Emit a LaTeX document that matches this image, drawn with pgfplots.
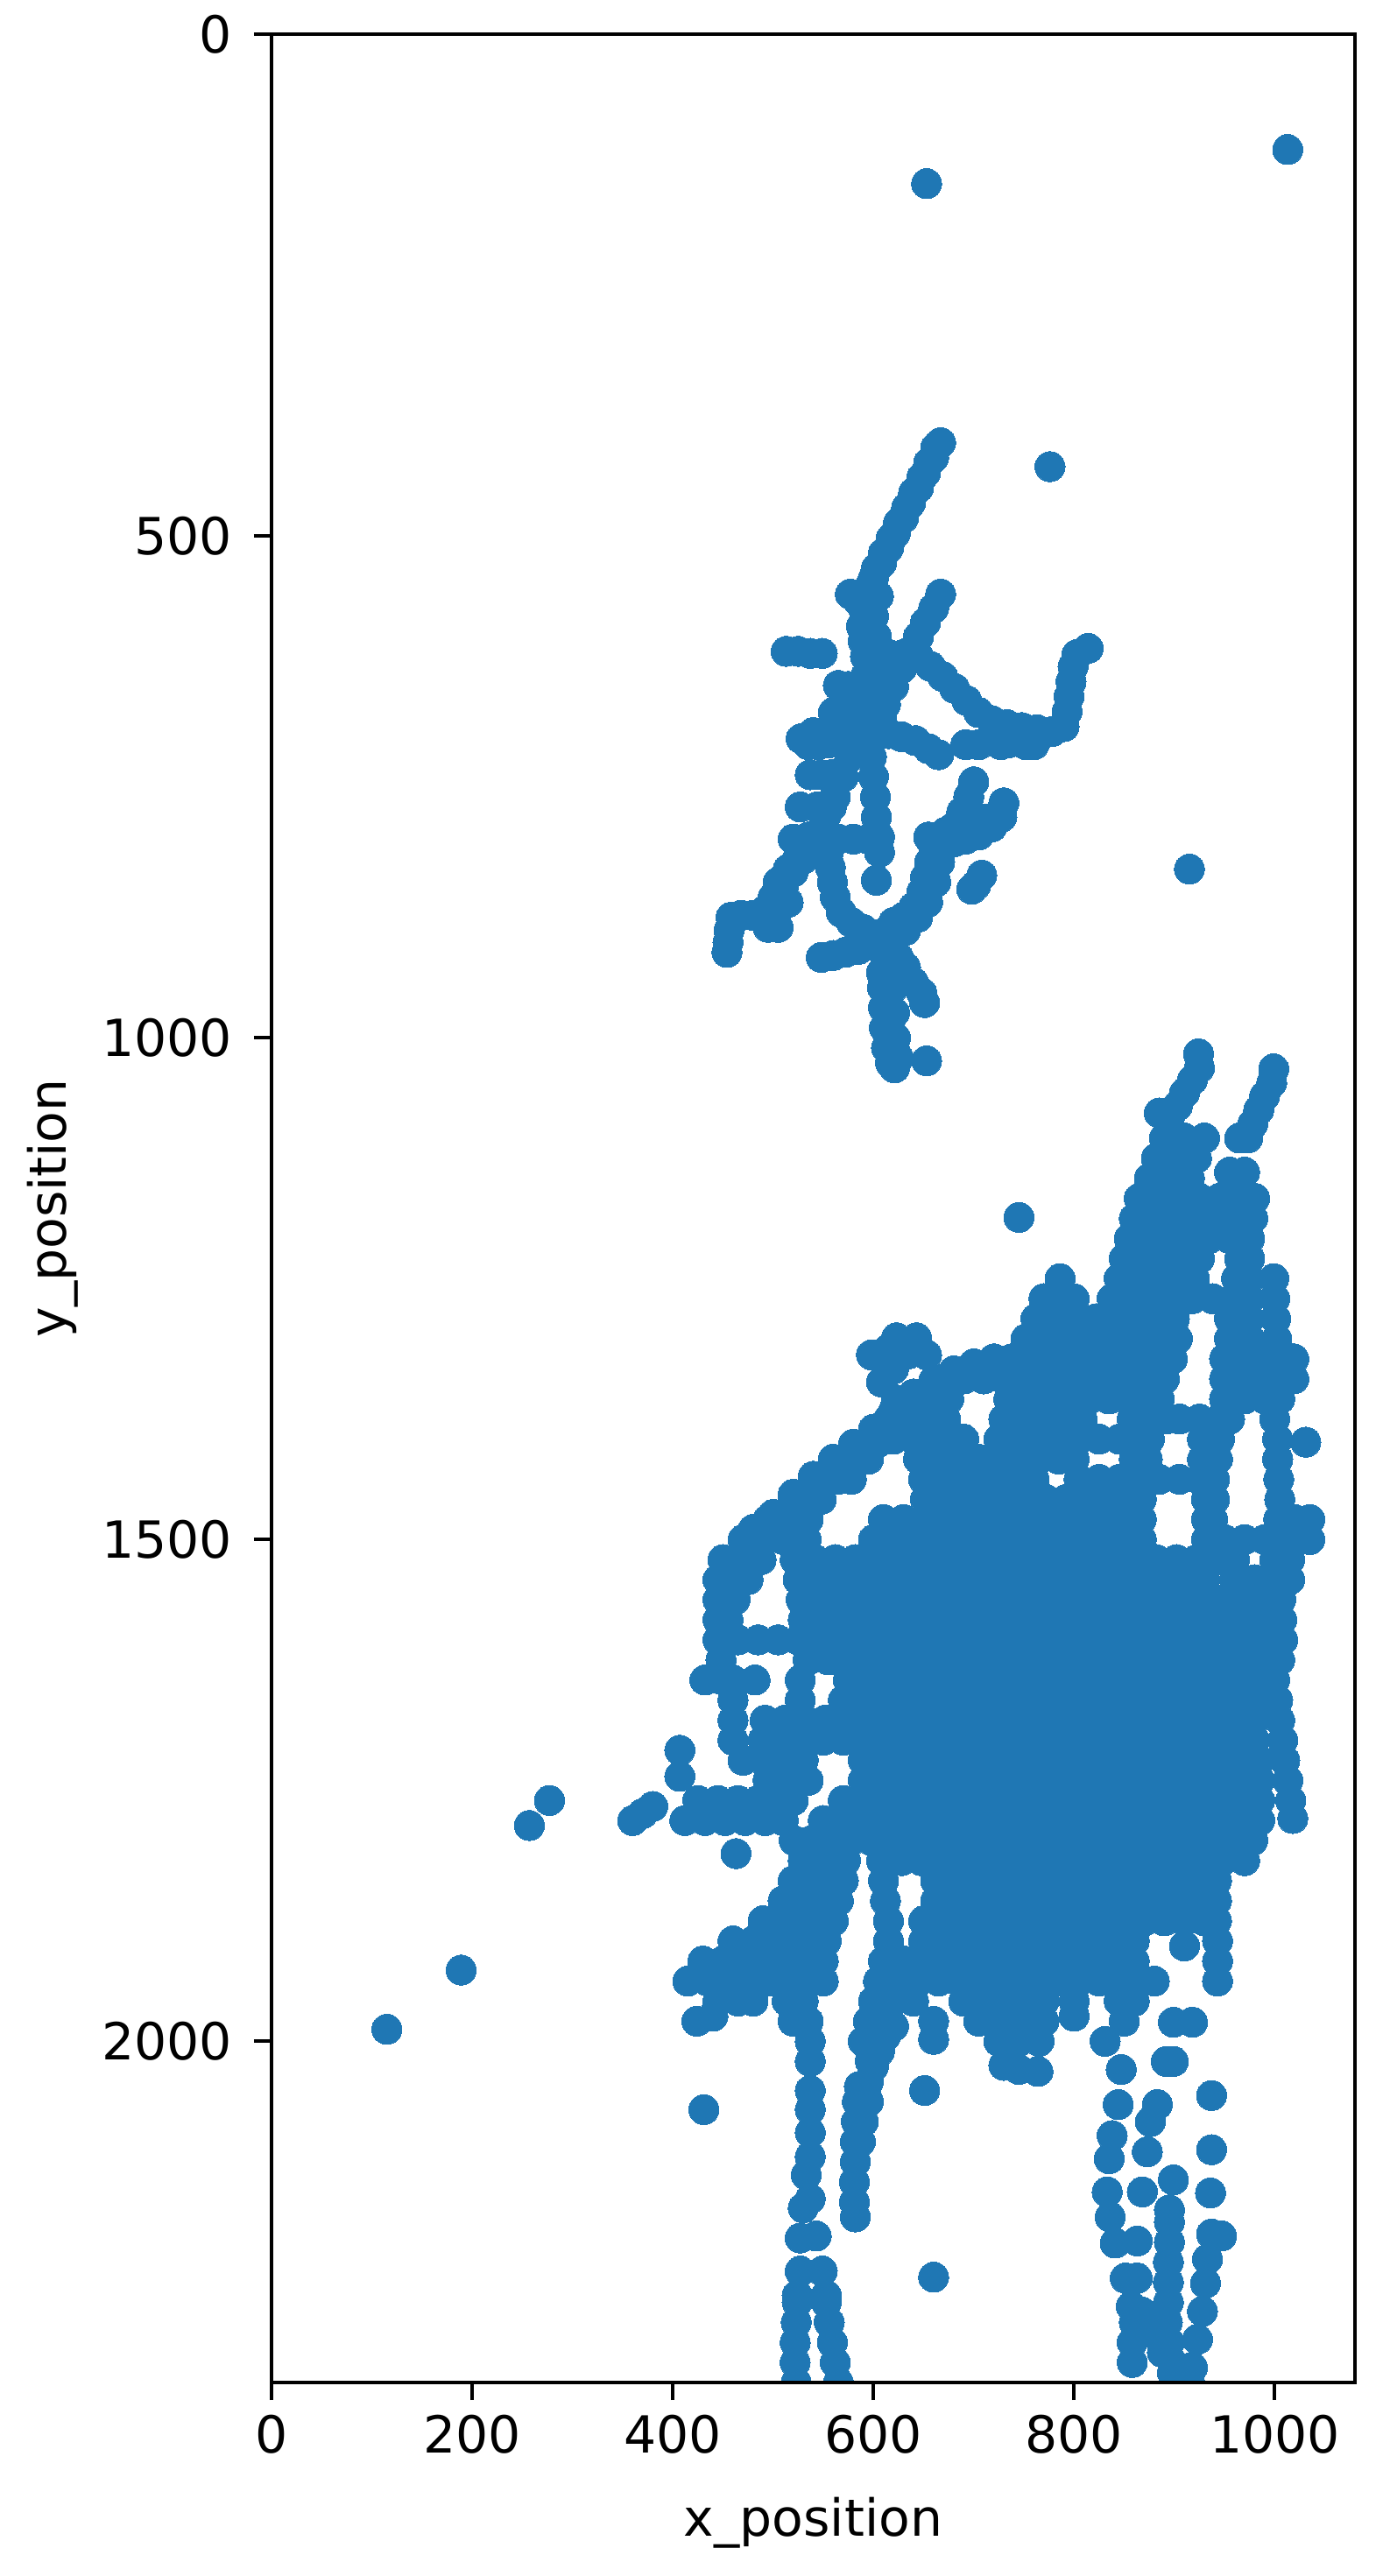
\documentclass[border=0pt]{standalone}
\usepackage{fontspec}
\setmainfont{DejaVu Sans}
\usepackage{pgfplots}
\pgfplotsset{compat=1.18}
\definecolor{mplblue}{HTML}{1F77B4}
\pgfplotsset{pts/.style={color=mplblue, only marks, mark=*, mark size=4.3pt, line width=0pt, mark options={solid, draw=mplblue, fill=mplblue, line width=0pt}}}

\begin{document}
\begin{tikzpicture}
\useasboundingbox (-77.5pt,-55.25pt) rectangle (319pt,680.25pt);
\begin{axis}[
    at={(0,0)}, anchor=south west,
    scale only axis,
    width=309.25pt, height=670.5pt,
    xmin=0, xmax=1080, ymin=0, ymax=2340,
    y dir=reverse,
    xtick={0,200,400,600,800,1000},
    ytick={0,500,1000,1500,2000},
    tick align=outside, tick pos=left,
    major tick length=5pt,
    tick style={black, line width=1pt},
    axis line style={line width=1pt},
    axis on top,
    clip marker paths=true,
    font=\fontsize{14.6pt}{17pt}\selectfont,
    tick label style={/pgf/number format/assume math mode=true, /pgf/number format/1000 sep={}},
    xticklabel style={yshift=-0.8pt},
    yticklabel style={xshift=-2.8pt},
    xlabel={x\_position}, ylabel={y\_position},
    xlabel style={at={(axis description cs:0.5,-0.0597)}, anchor=center},
    ylabel style={at={(axis description cs:-0.202,0.5)}, anchor=center},
]
% single points
\addplot[pts] coordinates {
(653,149)(1013,115)(776,431)(915,832)(745,1179)(653,1023)(708,838)(702,848)(698,852)(603,843)
(277,1760)(257,1785)(380,1766)(370,1773)(360,1780)(463,1813)(407,1710)(407,1736)
(651,2049)(431,2068)(660,2235)(189,1929)(115,1988)
};
% upper cluster
\addplot[pts] coordinates {
(667,407)(660,422)(652,437)(645,452)(637,467)(630,482)(622,497)(615,512)(608,527)(600,542)(595,557)(590,572)(588,590)(590,605)(592,620)(592,640)(594,660)(596,680)(597,700)(598,720)(600,740)(602,760)(603,780)(605,800)(606,815)
(662,412)(655,427)(648,442)(640,457)(633,472)(625,487)(618,502)(610,517)(603,532)(598,547)(605,560)(600,580)(603,600)(606,640)(606,660)(608,680)
(577,558)(585,565)
(667,558)(660,572)(652,586)(645,600)(637,615)(628,632)(620,650)(612,668)(605,685)
(600,618)(615,618)(630,618)(645,620)(657,630)(669,640)(681,652)(693,664)(705,676)(718,684)(733,688)(748,691)(763,693)(778,695)(790,690)(793,675)(795,660)(797,645)(799,630)(803,618)(814,612)
(692,708)(705,708)(727,708)(735,706)(752,708)(760,708)(748,699)(765,700)
(513,615)(525,615)(537,617)(549,617)
(565,649)(575,650)(585,650)(560,676)(572,676)(582,676)
(528,702)(540,696)(550,700)(556,706)(535,708)(545,708)(565,705)(578,700)
(537,738)(548,738)(558,738)(568,735)(527,770)(544,770)(558,770)(520,802)(535,800)(550,798)
(600,660)(592,680)(585,700)(577,720)(570,740)(562,760)(553,778)(544,797)(535,810)(525,820)(515,832)(505,845)(500,860)(492,873)(480,878)(468,878)(458,880)(456,893)(455,905)(454,915)(503,875)(505,890)(495,890)
(510,850)(520,835)(530,822)(515,865)
(553,800)(555,815)(557,830)(559,845)(562,860)(568,875)(578,885)(590,892)(605,897)
(565,802)(580,802)(595,802)(606,800)
(612,900)(610,915)(608,935)(609,950)(610,970)(611,990)(613,1010)(617,1025)(621,1030)
(620,905)(622,925)(620,950)(621,975)(622,1000)(625,1020)
(625,920)(632,930)(640,945)(648,955)(651,965)
(548,920)(560,918)(572,915)(585,912)(597,908)
(620,885)(630,880)(640,870)(648,855)(652,840)(656,825)(660,810)(655,800)(670,806)(680,805)(692,802)(705,798)(718,790)(728,780)(730,766)(680,790)(688,775)(695,760)(700,745)
(632,893)(644,880)(654,865)(662,845)(666,825)(672,795)(700,790)(712,782)
(615,697)(628,700)(642,704)(655,712)(665,718)
};
% lower cluster, upper tracks
\addplot[pts] coordinates {
(924,1016)(925,1030)(918,1042)(910,1055)(903,1068)(895,1080)(885,1075)
(999,1031)(997,1045)(990,1058)(984,1072)(978,1086)(973,1100)(965,1100)
(890,1100)(910,1100)(930,1100)(882,1120)(902,1120)(922,1120)(955,1134)(970,1134)(875,1140)(895,1140)(915,1140)
(865,1160)(885,1160)(905,1160)(925,1160)(945,1160)(965,1160)(980,1160)
(860,1180)(880,1180)(900,1180)(920,1180)(940,1180)(960,1180)(978,1180)
(855,1200)(875,1200)(895,1200)(915,1200)(935,1200)(955,1200)(975,1200)
(850,1220)(870,1220)(885,1220)(910,1220)(925,1220)(965,1220)(975,1220)
(786,1240)(845,1240)(865,1240)(885,1240)(905,1240)(920,1240)(962,1240)(975,1240)(999,1240)
(770,1260)(785,1260)(800,1260)(838,1260)(858,1260)(878,1260)(898,1260)(918,1260)(938,1260)(958,1260)(975,1260)(1000,1260)
(762,1280)(782,1280)(802,1280)(822,1280)(842,1280)(862,1280)(882,1280)(900,1280)(955,1280)(975,1280)(1001,1280)
(752,1300)(772,1300)(792,1300)(812,1300)(832,1300)(852,1300)(872,1300)(892,1300)(903,1300)(955,1300)(975,1300)(1002,1300)
(623,1299)(643,1299)(653,1316)(598,1316)(608,1343)(623,1361)(615,1310)(635,1315)(620,1330)
(738,1320)(758,1320)(778,1320)(798,1320)(818,1320)(838,1320)(858,1320)(878,1320)(898,1320)(950,1320)(970,1320)(990,1320)(1003,1320)(1019,1320)
(670,1340)(690,1340)(710,1340)(730,1340)(750,1340)(770,1340)(790,1340)(810,1340)(830,1340)(850,1340)(870,1340)(890,1340)(950,1340)(970,1340)(990,1340)(1005,1340)(1019,1340)
(640,1360)(660,1360)(675,1360)(735,1360)(755,1360)(775,1360)(795,1360)(815,1360)(835,1360)(855,1360)(875,1360)(885,1360)(950,1360)(970,1360)(990,1360)(1005,1360)
(480,1490)(500,1475)(520,1455)(540,1437)(560,1420)(580,1405)(600,1390)(620,1372)(640,1355)(660,1342)(680,1332)(700,1325)(720,1320)
(485,1500)(505,1485)(525,1468)(545,1450)(565,1433)(585,1418)(605,1403)(625,1385)(640,1372)
};
% lower cluster, main mass
\addplot[pts] coordinates {
(615,1380)(635,1380)(655,1380)(672,1380)(730,1380)(750,1380)(770,1380)(790,1380)(808,1380)(858,1380)(878,1380)(892,1380)(905,1380)(925,1380)(945,1380)(955,1380)(1000,1380)
(600,1400)(620,1400)(640,1400)(660,1400)(680,1400)(690,1400)(725,1400)(745,1400)(765,1400)(785,1400)(805,1400)(825,1400)(845,1400)(865,1400)(875,1400)(928,1400)(945,1400)(1003,1400)(1031,1403)
(575,1420)(595,1420)(645,1420)(665,1420)(685,1420)(705,1420)(725,1420)(745,1420)(765,1420)(785,1420)(800,1420)(860,1420)(873,1420)(928,1420)(943,1420)(1003,1420)
(545,1440)(565,1440)(578,1440)(650,1440)(670,1440)(690,1440)(710,1440)(730,1440)(750,1440)(760,1440)(805,1440)(825,1440)(845,1440)(865,1440)(885,1440)(905,1440)(925,1440)(940,1440)(1004,1440)
(520,1460)(540,1460)(548,1460)(652,1460)(672,1460)(692,1460)(712,1460)(732,1460)(752,1460)(772,1460)(792,1460)(812,1460)(832,1460)(852,1460)(867,1460)(932,1460)(940,1460)(1005,1460)
(495,1480)(515,1480)(535,1480)(610,1480)(630,1480)(650,1480)(670,1480)(690,1480)(710,1480)(730,1480)(750,1480)(770,1480)(790,1480)(810,1480)(830,1480)(850,1480)(867,1480)(932,1480)(938,1480)(1004,1480)(1020,1480)(1035,1480)
(470,1500)(490,1500)(510,1500)(533,1500)(600,1500)(620,1500)(640,1500)(660,1500)(680,1500)(700,1500)(720,1500)(740,1500)(760,1500)(780,1500)(800,1500)(820,1500)(840,1500)(860,1500)(867,1500)(932,1500)(950,1500)(970,1500)(990,1500)(1005,1500)(1020,1500)(1035,1500)
(450,1520)(470,1520)(488,1520)(522,1520)(542,1520)(562,1520)(582,1520)(602,1520)(622,1520)(642,1520)(662,1520)(682,1520)(702,1520)(722,1520)(742,1520)(762,1520)(782,1520)(802,1520)(822,1520)(842,1520)(862,1520)(882,1520)(902,1520)(922,1520)(942,1520)(960,1520)(1000,1520)(1015,1520)
(445,1540)(465,1540)(475,1540)(525,1540)(545,1540)(565,1540)(585,1540)(605,1540)(625,1540)(645,1540)(665,1540)(685,1540)(705,1540)(725,1540)(745,1540)(765,1540)(785,1540)(805,1540)(825,1540)(845,1540)(865,1540)(885,1540)(905,1540)(930,1540)(960,1540)(980,1540)(1000,1540)(1015,1540)
(445,1560)(462,1560)(528,1560)(548,1560)(568,1560)(588,1560)(608,1560)(628,1560)(648,1560)(668,1560)(688,1560)(708,1560)(728,1560)(748,1560)(768,1560)(788,1560)(808,1560)(828,1560)(848,1560)(868,1560)(888,1560)(908,1560)(928,1560)(948,1560)(968,1560)(985,1560)(1006,1560)
(445,1580)(455,1580)(530,1580)(550,1580)(570,1580)(590,1580)(610,1580)(630,1580)(650,1580)(670,1580)(690,1580)(710,1580)(730,1580)(750,1580)(770,1580)(790,1580)(810,1580)(830,1580)(850,1580)(870,1580)(890,1580)(910,1580)(930,1580)(950,1580)(970,1580)(985,1580)(1007,1580)
(445,1600)(465,1600)(485,1600)(505,1600)(525,1600)(545,1600)(565,1600)(585,1600)(605,1600)(625,1600)(645,1600)(665,1600)(685,1600)(705,1600)(725,1600)(745,1600)(765,1600)(785,1600)(805,1600)(825,1600)(845,1600)(865,1600)(885,1600)(905,1600)(925,1600)(945,1600)(965,1600)(985,1600)(1008,1600)
(448,1620)(535,1620)(555,1620)(575,1620)(595,1620)(615,1620)(635,1620)(655,1620)(675,1620)(695,1620)(715,1620)(735,1620)(755,1620)(775,1620)(795,1620)(815,1620)(835,1620)(855,1620)(875,1620)(895,1620)(915,1620)(935,1620)(955,1620)(975,1620)(985,1620)(1005,1620)
(432,1640)(450,1640)(460,1640)(482,1640)(527,1640)(575,1640)(595,1640)(615,1640)(635,1640)(655,1640)(675,1640)(695,1640)(715,1640)(735,1640)(755,1640)(775,1640)(795,1640)(815,1640)(835,1640)(855,1640)(875,1640)(895,1640)(915,1640)(935,1640)(955,1640)(975,1640)(1000,1640)
(460,1660)(527,1660)(570,1660)(590,1660)(610,1660)(630,1660)(650,1660)(670,1660)(690,1660)(710,1660)(730,1660)(750,1660)(770,1660)(790,1660)(810,1660)(830,1660)(850,1660)(870,1660)(890,1660)(910,1660)(930,1660)(950,1660)(970,1660)(980,1660)(1003,1660)
(460,1680)(492,1680)(512,1680)(532,1680)(552,1680)(572,1680)(592,1680)(612,1680)(632,1680)(652,1680)(672,1680)(692,1680)(712,1680)(732,1680)(752,1680)(772,1680)(792,1680)(812,1680)(832,1680)(852,1680)(872,1680)(892,1680)(912,1680)(932,1680)(952,1680)(972,1680)(980,1680)(1005,1680)
(460,1700)(490,1700)(510,1700)(530,1700)(550,1700)(570,1700)(590,1700)(610,1700)(630,1700)(650,1700)(670,1700)(690,1700)(710,1700)(730,1700)(750,1700)(770,1700)(790,1700)(810,1700)(830,1700)(850,1700)(870,1700)(890,1700)(910,1700)(930,1700)(950,1700)(970,1700)(980,1700)(1008,1700)
(470,1720)(490,1720)(510,1720)(530,1720)(590,1720)(610,1720)(630,1720)(650,1720)(670,1720)(690,1720)(710,1720)(730,1720)(750,1720)(770,1720)(790,1720)(810,1720)(830,1720)(850,1720)(870,1720)(890,1720)(910,1720)(930,1720)(950,1720)(970,1720)(985,1720)(1010,1720)
(495,1740)(515,1740)(535,1740)(590,1740)(610,1740)(630,1740)(650,1740)(670,1740)(690,1740)(710,1740)(730,1740)(750,1740)(770,1740)(790,1740)(810,1740)(830,1740)(850,1740)(870,1740)(890,1740)(910,1740)(930,1740)(950,1740)(970,1740)(985,1740)(1013,1740)
(425,1760)(445,1760)(465,1760)(485,1760)(505,1760)(520,1760)(570,1760)(590,1760)(610,1760)(630,1760)(650,1760)(670,1760)(690,1760)(710,1760)(730,1760)(750,1760)(770,1760)(790,1760)(810,1760)(830,1760)(850,1760)(870,1760)(890,1760)(910,1760)(930,1760)(950,1760)(970,1760)(985,1760)(1016,1760)
(412,1780)(432,1780)(452,1780)(472,1780)(492,1780)(510,1780)(550,1780)(570,1780)(590,1780)(610,1780)(630,1780)(650,1780)(670,1780)(690,1780)(710,1780)(730,1780)(750,1780)(770,1780)(790,1780)(810,1780)(830,1780)(850,1780)(870,1780)(890,1780)(910,1780)(930,1780)(950,1780)(970,1780)(985,1780)(1018,1778)
(521,1800)(538,1800)(558,1800)(578,1800)(598,1800)(618,1800)(638,1800)(658,1800)(678,1800)(698,1800)(718,1800)(738,1800)(758,1800)(778,1800)(798,1800)(818,1800)(838,1800)(858,1800)(878,1800)(898,1800)(918,1800)(938,1800)(958,1800)(978,1800)
(530,1820)(550,1820)(572,1820)(608,1820)(628,1820)(648,1820)(668,1820)(688,1820)(708,1820)(728,1820)(748,1820)(768,1820)(788,1820)(808,1820)(828,1820)(848,1820)(868,1820)(888,1820)(908,1820)(928,1820)(948,1820)(970,1820)
(520,1840)(540,1840)(560,1840)(570,1840)(610,1840)(662,1840)(682,1840)(702,1840)(722,1840)(742,1840)(762,1840)(782,1840)(802,1840)(822,1840)(842,1840)(862,1840)(882,1840)(902,1840)(922,1840)(942,1840)
(510,1860)(530,1860)(550,1860)(565,1860)(612,1860)(662,1860)(682,1860)(702,1860)(722,1860)(742,1860)(762,1860)(782,1860)(802,1860)(822,1860)(842,1860)(862,1860)(882,1860)(902,1860)(922,1860)(942,1860)
(490,1880)(510,1880)(530,1880)(550,1880)(560,1880)(615,1880)(650,1880)(670,1880)(690,1880)(710,1880)(730,1880)(750,1880)(770,1880)(790,1880)(810,1880)(830,1880)(850,1880)(870,1880)(890,1880)(910,1880)(930,1880)(942,1880)
(460,1900)(480,1900)(500,1900)(520,1900)(535,1900)(553,1900)(615,1900)(650,1900)(670,1900)(690,1900)(710,1900)(730,1900)(750,1900)(770,1900)(790,1900)(810,1900)(830,1900)(850,1900)(860,1900)(910,1905)(943,1900)
(430,1920)(450,1920)(470,1920)(490,1920)(510,1920)(525,1920)(550,1920)(610,1920)(630,1920)(650,1920)(670,1920)(690,1920)(710,1920)(730,1920)(750,1920)(770,1920)(790,1920)(810,1920)(830,1920)(850,1920)(860,1920)(943,1920)
(415,1940)(435,1940)(455,1940)(478,1940)(498,1940)(518,1940)(530,1940)(550,1940)(605,1940)(625,1940)(645,1940)(665,1940)(685,1940)(705,1940)(725,1940)(745,1940)(765,1940)(785,1940)(805,1940)(825,1940)(845,1940)(865,1940)(880,1940)(943,1940)
(445,1960)(465,1960)(480,1960)(514,1960)(530,1960)(600,1960)(620,1960)(640,1960)(690,1960)(710,1960)(730,1960)(750,1960)(770,1960)(800,1960)(845,1960)(860,1960)
(424,1980)(440,1975)(520,1980)(535,1980)(595,1980)(612,1980)(660,1980)(705,1980)(730,1980)(750,1980)(770,1980)(800,1975)(850,1980)(899,1981)(918,1981)
(537,2000)(590,2000)(608,2000)(660,1998)(725,2000)(745,2000)(765,2000)(831,2000)
(537,2020)(597,2020)(730,2024)(745,2028)(764,2030)(847,2028)(892,2020)(899,2020)
};
% lower chains
\addplot[pts] coordinates {
(537,2049)(537,2068)(537,2091)(537,2115)(533,2133)(537,2157)(530,2166)(527,2196)(543,2194)(527,2229)(549,2229)(524,2253)(553,2253)
(524,2260)(523,2280)(522,2300)(522,2320)(523,2340)(553,2260)(556,2280)(559,2300)(562,2320)(565,2340)
(582,2175)(581,2160)(581,2140)(582,2120)(582,2100)(583,2080)(584,2060)(586,2045)(592,2050)(595,2040)(600,2025)(606,2010)(612,1995)(620,1985)(595,2060)(590,2080)(587,2100)
(844,2063)(838,2094)(835,2117)(833,2150)(836,2175)(841,2201)(863,2199)(851,2236)(863,2236)(857,2264)(860,2280)(858,2300)(858,2320)
(883,2063)(876,2080)(873,2110)(868,2150)(899,2138)
(895,2168)(895,2180)(895,2200)(894,2220)(894,2240)(894,2260)(893,2280)(895,2300)(898,2320)
(937,2054)(937,2108)(936,2151)(937,2192)(947,2194)(933,2217)(931,2241)(928,2269)(923,2297)(918,2325)(915,2339)
(868,2270)(878,2290)(888,2310)(898,2330)(905,2340)
};
\end{axis}
\end{tikzpicture}
\end{document}
